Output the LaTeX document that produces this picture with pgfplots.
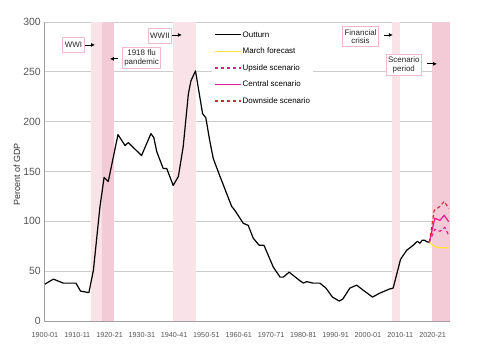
\documentclass[border=0pt]{standalone}
\usepackage{fontspec}
\setmainfont{Liberation Sans}
\usepackage{pgfplots}
\pgfplotsset{compat=1.18}
\usetikzlibrary{arrows.meta}
\definecolor{bandlight}{HTML}{F9E3E9}
\definecolor{banddark}{HTML}{F2CBD7}
\definecolor{boxpink}{HTML}{F0B9CD}
\definecolor{fyellow}{HTML}{FFE433}
\definecolor{fmagenta}{HTML}{E6198A}
\definecolor{fred}{HTML}{CC2936}
\definecolor{ticktext}{HTML}{555555}
\begin{document}
\begin{tikzpicture}
\useasboundingbox (0,0) rectangle (480bp,358bp);
\begin{axis}[
  at={(44bp,37bp)}, anchor=south west,
  scale only axis, width=406bp, height=299bp,
  xmin=1899.7, xmax=2025.4, ymin=0, ymax=300,
  axis x line*=bottom, axis y line*=left,
  axis line style={draw=gray!75, line width=1bp},
  major tick length=0pt,
  ytick={0,50,...,300},
  ymajorgrids, grid style={draw=gray!40, line width=0.9bp},
  xtick={1900,1910,...,2020},
  xticklabels={1900-01,1910-11,1920-21,1930-31,1940-41,1950-51,1960-61,1970-71,1980-81,1990-91,2000-01,2010-11,2020-21},
  /pgf/number format/assume math mode=true,
  yticklabel style={font=\fontsize{10.5}{12}\selectfont, text=ticktext, inner sep=0pt, anchor=east, xshift=-3bp},
  xticklabel style={font=\fontsize{7.25}{8}\selectfont, text=ticktext, inner sep=0pt, anchor=north, yshift=-11bp},
  ylabel={Percent of GDP},
  ylabel style={font=\fontsize{9}{10}\selectfont, text=black!80, at={(axis description cs:-0.0665,0.49)}, anchor=center, rotate=0},
  legend style={at={(0.4138,0.98)}, anchor=north west, draw=none, fill=white,
    inner xsep=2bp, inner ysep=1bp, font=\fontsize{8}{9}\selectfont,
    row sep=5.6bp, nodes={inner sep=1bp, text height=7bp, text depth=2bp}, cells={anchor=west}},
  legend image code/.code={\draw[#1, line width=1.5bp] (0bp,0bp) -- (26bp,0bp);},
]
% bands
\addplot[draw=none, fill=bandlight, forget plot] coordinates {(1914.2,300) (1917.6,300)} \closedcycle;
\addplot[draw=none, fill=banddark, forget plot] coordinates {(1917.6,300) (1921.3,300)} \closedcycle;
\addplot[draw=none, fill=bandlight, forget plot] coordinates {(1939.5,300) (1946.7,300)} \closedcycle;
\addplot[draw=none, fill=bandlight, forget plot] coordinates {(2007.4,300) (2009.9,300)} \closedcycle;
\addplot[draw=none, fill=banddark, forget plot] coordinates {(2019.8,300) (2025.4,300)} \closedcycle;

% outturn
\addplot[draw=black, line width=1.2bp, line join=round] coordinates {
(1900.0,37) (1902.6,42) (1905.7,38) (1909.6,38) (1911.0,30) (1913.6,28.5)
(1915.0,51) (1917.0,114) (1918.3,144) (1919.6,140) (1922.6,187) (1924.8,176)
(1925.8,179) (1929.9,166) (1932.8,188) (1933.7,184) (1934.6,170) (1936.6,153)
(1937.7,153) (1939.7,136) (1941.3,145) (1942.8,175) (1944.4,228) (1945.2,241)
(1946.6,251) (1948.8,208) (1949.8,204) (1950.9,183) (1952.1,163) (1954.2,145)
(1957.8,115) (1958.8,111) (1961.4,98) (1962.9,96) (1964.5,83) (1966.3,76)
(1967.8,76) (1970.7,54) (1972.8,44) (1973.8,44) (1975.6,49) (1978.7,41)
(1980.0,38) (1981.0,39.5) (1983.0,38) (1985.1,38) (1987.0,33) (1989.0,24)
(1991.1,20) (1992.2,22) (1994.4,33) (1996.5,36) (1998.5,31) (2001.4,24)
(2003.7,28) (2006.6,32) (2007.8,33) (2010.1,62) (2012.0,71) (2014.0,76)
(2015.3,80) (2016.1,78) (2016.8,81) (2017.6,81) (2018.2,79.5) (2019.0,79)
};
\addlegendentry{Outturn}
\addplot[draw=fyellow, line width=1.2bp] coordinates {
(2019.0,79) (2020.7,74.5) (2022.3,73.5) (2023.8,73.5) (2025.0,73.5)};
\addlegendentry{March forecast}
\addplot[draw=fmagenta, line width=1.1bp, dash pattern=on 3.5bp off 2.5bp] coordinates {
(2019.0,79) (2020.7,92) (2022.3,90) (2023.8,94) (2025.0,86)};
\addlegendentry{Upside scenario}
\addplot[draw=fmagenta, line width=1.2bp] coordinates {
(2019.0,79) (2020.7,103) (2022.3,101) (2023.6,106) (2025.0,99.6)};
\addlegendentry{Central scenario}
\addplot[draw=fred, line width=1.1bp, dash pattern=on 3.5bp off 2.5bp] coordinates {
(2019.0,79) (2020.5,111) (2022.3,115) (2023.6,120) (2025.0,113)};
\addlegendentry{Downside scenario}

% annotations
\tikzset{annot/.style={draw=boxpink, fill=white, line width=0.8bp, font=\fontsize{8}{8.5}\selectfont, text=black!85, align=center, inner xsep=2bp, inner ysep=2.5bp},
         arr/.style={-{Latex[length=4bp,width=4bp]}, line width=0.8bp, black}}
\node[annot, minimum height=15bp] at (axis cs:1908.8,277) {WWI};
\draw[arr] (axis cs:1912.4,277) -- (axis cs:1915.5,277);
\node[annot] at (axis cs:1929.9,264) {1918 flu\\pandemic};
\draw[arr] (axis cs:1922.6,263) -- (axis cs:1920.1,263);
\node[annot, minimum height=15bp, inner xsep=1.5bp] at (axis cs:1935.6,286) {WWII};
\draw[arr] (axis cs:1939.3,287) -- (axis cs:1942.4,287);
\node[annot] at (axis cs:1997.7,285.5) {Financial\\crisis};
\draw[arr] (axis cs:2005.0,287) -- (axis cs:2007.7,287);
\node[annot] at (axis cs:2011.1,257) {Scenario\\period};
\draw[arr] (axis cs:2018.3,258) -- (axis cs:2021.4,258);
\end{axis}
\end{tikzpicture}
\end{document}
